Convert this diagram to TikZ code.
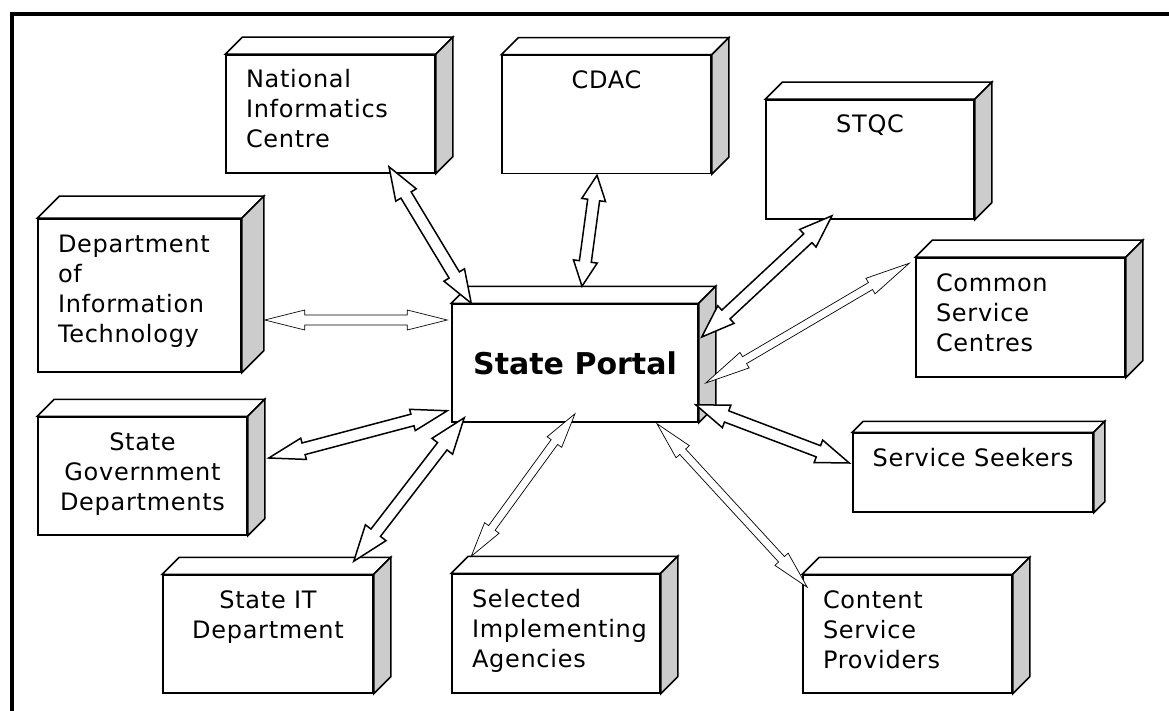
\documentclass[tikz,border=0pt]{standalone}
\usepackage{fontspec}
\setmainfont{DejaVu Sans}
\newfontfamily\boxfont{DejaVu Sans}[LetterSpace=3]
\usetikzlibrary{calc,positioning}

% text block pinned to the top of a box
\newcommand{\boxlines}[4][\raggedright]{\parbox[c][#2][t]{#3}{#1\strut #4}}

% hollow double-headed block arrow: [style]{from}{to}{shaft}{head}{head length}
\newcommand{\dblarrow}[6][]{%
  \draw[fill=white,#1] let \p1=(#2), \p2=(#3), \n1={atan2(\y2-\y1,\x2-\x1)} in
    (\p1) -- ($(\p1)+(\n1:#6)+(\n1+90:#5)$) -- ($(\p1)+(\n1:#6)+(\n1+90:#4)$)
    -- ($(\p2)+(\n1:-#6)+(\n1+90:#4)$) -- ($(\p2)+(\n1:-#6)+(\n1+90:#5)$) -- (\p2)
    -- ($(\p2)+(\n1:-#6)+(\n1-90:#5)$) -- ($(\p2)+(\n1:-#6)+(\n1-90:#4)$)
    -- ($(\p1)+(\n1:#6)+(\n1-90:#4)$) -- ($(\p1)+(\n1:#6)+(\n1-90:#5)$) -- cycle;}

\begin{document}
\begin{tikzpicture}[x=1pt,y=-1pt,
    unit/.style={draw,fill=white,line width=1.5pt,inner xsep=20pt,inner ysep=12pt,
                 font=\boxfont\fontsize{24}{30}\selectfont},
    core/.style={draw,fill=white,line width=1.5pt,minimum width=246pt,minimum height=118pt,
                 font=\fontsize{30}{36}\selectfont\bfseries},
    wide/.style={line width=1.5pt},
    slim/.style={line width=0.7pt}]

\useasboundingbox (0,0) rectangle (1169,711);
\draw[line width=4pt] (11.5,711) -- (11.5,14.5) -- (1169,14.5);

\node[unit] (nic)  at (330.5,114)   {\boxlines{94pt}{169pt}{National\\Informatics\\Centre}};
\node[unit] (cdac) at (606.5,114.5) {\boxlines[\centering]{94pt}{169pt}{CDAC}};
\node[unit] (stqc) at (870,159.5)   {\boxlines[\centering]{95pt}{168pt}{STQC}};
\node[unit] (dit)  at (139.5,295.5) {\boxlines{129pt}{163pt}{Department\\of\\Information\\Technology}};
\node[core] (portal) at (575,363)   {State Portal};
\node[unit] (csc)  at (1020.5,317.5) {\boxlines{95pt}{169pt}{Common\\Service\\Centres}};
\node[unit] (sgd)  at (142.5,476)   {\boxlines[\centering]{94pt}{169pt}{State\\Government\\Departments}};
\node[unit,inner xsep=10pt] (ss) at (973,472.5) {\boxlines[\centering]{55pt}{220pt}{Service Seekers}};
\node[unit] (sit)  at (268,634)     {\boxlines[\centering]{94pt}{170pt}{State IT\\Department}};
\node[unit] (sia)  at (556,633.5)   {\boxlines{95pt}{168pt}{Selected\\Implementing\\Agencies}};
\node[unit] (csp)  at (907.5,634)   {\boxlines{94pt}{169pt}{Content\\Service\\Providers}};

% top and side faces
\foreach \n/\d in {nic/17,cdac/17,stqc/17,dit/22,portal/17,csc/17,sgd/17,ss/11,sit/17,sia/17,csp/17}
  {\draw[line width=1.5pt,fill=white] (\n.north west) -- ++(\d,-\d)
      -- ([shift={(\d,-\d)}]\n.north east) -- (\n.north east) -- cycle;
   \draw[line width=1.5pt,fill=gray!40] (\n.north east) -- ++(\d,-\d)
      -- ([shift={(\d,-\d)}]\n.south east) -- (\n.south east) -- cycle;}

\dblarrow[wide]{[shift={(58.5,-7)}]nic.south}{[shift={(20,0)}]portal.north west}{6pt}{12pt}{33pt}
\dblarrow[wide]{[shift={(-9.5,1)}]cdac.south}{[shift={(7,-17)}]portal.north}{6pt}{12pt}{25pt}
\dblarrow[wide]{[shift={(-38,-4)}]stqc.south}{[shift={(3,-26)}]portal.east}{6pt}{12pt}{33pt}
\dblarrow[slim]{[shift={(-6,6)}]csc.north west}{[shift={(7,20)}]portal.east}{4pt}{9pt}{45pt}
\dblarrow[wide]{[shift={(-3,-9.5)}]ss.west}{[shift={(-3,-18)}]portal.south east}{6pt}{12pt}{33pt}
\dblarrow[slim]{[shift={(5,13)}]csp.north west}{[shift={(82,1)}]portal.south}{4pt}{9pt}{38pt}
\dblarrow[slim]{[shift={(20,-17)}]sia.north west}{[shift={(0,-9)}]portal.south}{4pt}{9pt}{35pt}
\dblarrow[wide]{[shift={(-20,-13)}]sit.north east}{[shift={(13,-5)}]portal.south west}{6pt}{13pt}{36pt}
\dblarrow[wide]{[shift={(21,-18)}]sgd.east}{[shift={(-4,-12)}]portal.south west}{6pt}{11pt}{36pt}
\dblarrow[slim]{[shift={(23,24.5)}]dit.east}{[shift={(-4,-43)}]portal.west}{5pt}{10pt}{40pt}

\end{tikzpicture}
\end{document}
